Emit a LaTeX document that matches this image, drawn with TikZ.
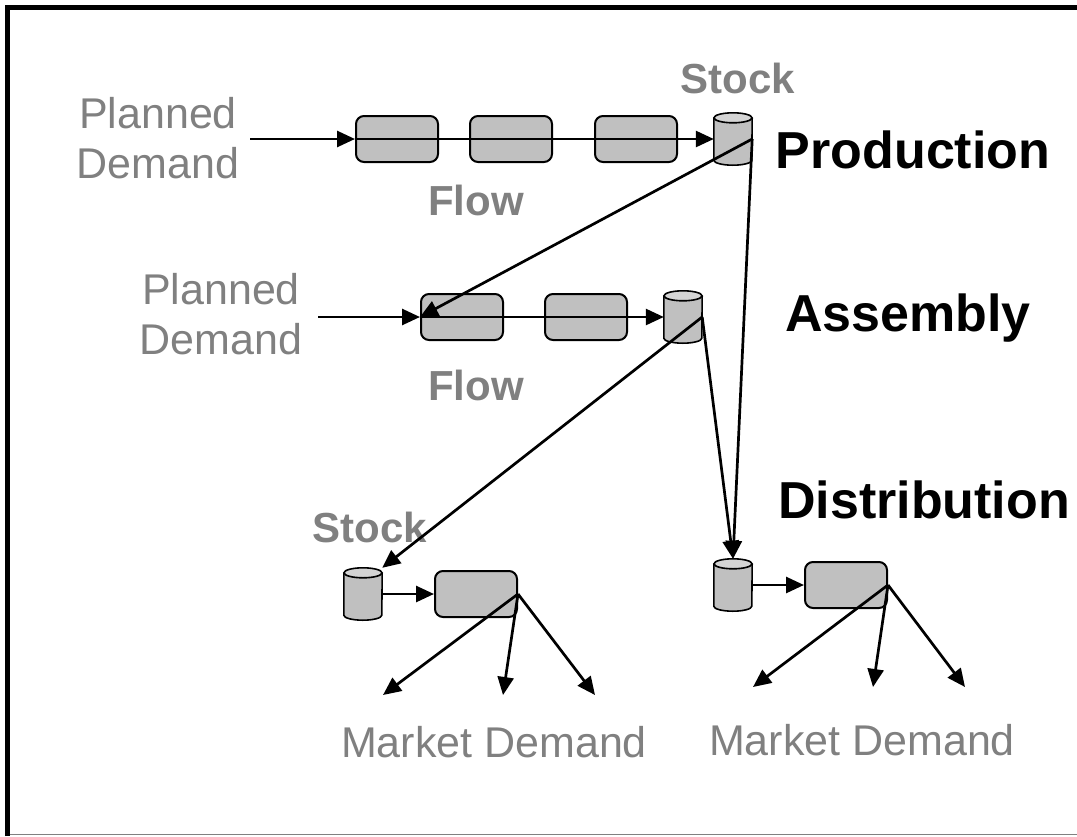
\documentclass[tikz,border=0pt]{standalone}
\usepackage{fontspec}
\setmainfont{Liberation Sans}
\usetikzlibrary{arrows.meta}
\definecolor{txtgray}{RGB}{128,128,128}
\definecolor{boxgray}{RGB}{192,192,192}
\definecolor{topgray}{RGB}{212,212,212}
\begin{document}
\begin{tikzpicture}[x=1pt,y=-1pt,
    proc/.style={draw,line width=2pt,rounded corners=8pt,fill=boxgray,minimum width=82pt,minimum height=46pt,inner sep=0pt},
    tank/.style={rectangle,minimum width=38pt,minimum height=52pt,inner sep=0pt},
    tankline/.style={line width=1.6pt,draw=black},
    flowarrow/.style={line width=2.7pt,-{Triangle[length=18pt,width=16pt]}},
    demandtext/.style={font=\fontsize{43}{50}\selectfont,text=txtgray,align=center},
    greylabel/.style={font=\fontsize{42}{48}\selectfont\bfseries,text=txtgray},
    stage/.style={font=\fontsize{52}{60}\selectfont\bfseries}]
  \useasboundingbox (0,0) rectangle (1077,836);
  \draw[line width=5pt] (7.5,836) -- (7.5,7.5) -- (1077,7.5);
  \draw[gray,line width=1pt] (10,834) -- (1077,834);

  % production
  \node[demandtext] (pdP) at (158,138) {Planned\\Demand};
  \node[proc] (p1) at (397,139) {};
  \node[proc] (p2) at (511,139) {};
  \node[proc] (p3) at (636,139) {};
  \node[tank] (stockP) at (733,139) {};
  \node[greylabel] (stockPtxt) at (738,78) {Stock};
  \node[greylabel] (flowP) at (476,200) {Flow};
  \node[stage] (prod) at (913,150) {Production};

  % assembly
  \node[demandtext] (pdA) at (221,314) {Planned\\Demand};
  \node[proc] (a1) at (462,317) {};
  \node[proc] (a2) at (586,317) {};
  \node[tank] (stockA) at (683,317) {};
  \node[greylabel] (flowA) at (476,385) {Flow};
  \node[stage] (asm) at (908,318) {Assembly};

  % distribution
  \node[stage] (dist) at (924,500) {Distribution};
  \node[greylabel] (stockDtxt) at (370,527) {Stock};
  \node[tank] (stockD1) at (363,594) {};
  \node[proc] (d1) at (476,594) {};
  \node[tank] (stockD2) at (733,585) {};
  \node[proc] (d2) at (846,585) {};
  \node[demandtext] (mdL) at (494,742) {Market Demand};
  \node[demandtext] (mdR) at (862,740) {Market Demand};

  % the stock tanks
  \foreach \t in {stockP,stockA,stockD1,stockD2} {
    \filldraw[tankline,fill=boxgray] ([yshift=-5pt]\t.north west) -- ([yshift=5pt]\t.south west)
      arc[start angle=180,end angle=360,x radius=19pt,y radius=5pt]
      -- ([yshift=-5pt]\t.north east);
    \filldraw[tankline,fill=topgray] ([yshift=-5pt]\t.north) ellipse[x radius=19pt,y radius=5pt];
  }

  \coordinate (inP) at (250,139);
  \coordinate (inA) at (318,317);
  \coordinate (m1a) at (383,695);
  \coordinate (m1b) at (503,695);
  \coordinate (m1c) at (595,695);
  \coordinate (m2a) at (753,687);
  \coordinate (m2b) at (873,687);
  \coordinate (m2c) at (965,687);

  \draw[flowarrow] (inP) -- (p1.west);
  \draw[flowarrow] (p1.west) -- (stockP.west);
  \draw[flowarrow] (stockP.east) -- (a1.west);
  \draw[flowarrow] (stockP.east) -- (stockD2.north);
  \draw[flowarrow] (inA) -- (a1.west);
  \draw[flowarrow] (a1.west) -- (stockA.west);
  \draw[flowarrow] (stockA.east) -- (stockD1.north east);
  \draw[flowarrow] (stockA.east) -- (stockD2.north);
  \draw[flowarrow] (stockD1.east) -- (d1.west);
  \draw[flowarrow] (stockD2.east) -- (d2.west);
  \draw[flowarrow] (d1.east) -- (m1a);
  \draw[flowarrow] (d1.east) -- (m1b);
  \draw[flowarrow] (d1.east) -- (m1c);
  \draw[flowarrow] (d2.east) -- (m2a);
  \draw[flowarrow] (d2.east) -- (m2b);
  \draw[flowarrow] (d2.east) -- (m2c);
\end{tikzpicture}
\end{document}
